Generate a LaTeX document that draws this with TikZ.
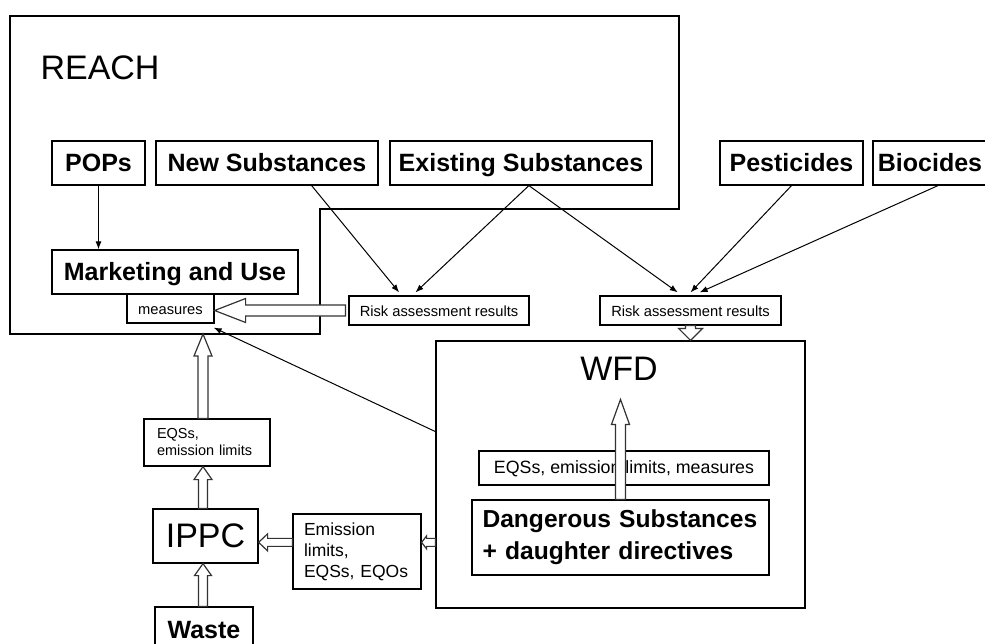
\documentclass[tikz,border=0pt]{standalone}
\usepackage{fontspec}
\setmainfont{Liberation Sans}
\usetikzlibrary{calc,arrows.meta}

% block arrow: shaft half width, head half width, head length, from, to
\newcommand{\hollowarrow}[5]{%
  \coordinate (ha) at (#4);
  \coordinate (hb) at (#5);
  \coordinate (hc) at ($(hb)!#3!(ha)$);
  \draw[hollow] ($(ha)!#1!90:(hb)$) -- ($(hc)!#1!90:(hb)$) -- ($(hc)!#2!90:(hb)$)
    -- (hb) -- ($(hc)!#2!-90:(hb)$) -- ($(hc)!#1!-90:(hb)$) -- ($(ha)!#1!-90:(hb)$) -- cycle;
}

\begin{document}
\begin{tikzpicture}[x=1pt, y=-1pt,
    frame/.style={draw, line width=1.2pt, inner sep=0pt},
    box/.style={frame, font=\bfseries\fontsize{25}{32}\selectfont, text height=17.5pt, text depth=0pt},
    small/.style={frame, font=\fontsize{14.7}{17}\selectfont, text height=12pt, text depth=0pt},
    title/.style={font=\fontsize{34}{40}\selectfont},
    link/.style={line width=1pt, -{Latex[length=8pt, width=6pt]}},
    hollow/.style={draw=black!80, fill=white, line width=1.2pt}]
    \useasboundingbox (0,0) rectangle (985,644);

    % REACH frame
    \draw[line width=1.2pt] (10,16) -- (679,16) -- (679,209) -- (320,209) -- (320,334) -- (10,334) -- cycle;
    \node[title, anchor=base west] (reach) at (37,80) {REACH};

    % Substance groups
    \node[box, minimum width=93pt, minimum height=44pt] (pops) at (98.5,163) {POPs};
    \node[box, minimum width=222pt, minimum height=44pt] (newsub) at (267,163) {New Substances};
    \node[box, minimum width=262pt, minimum height=44pt] (exist) at (521,163) {Existing Substances};
    \node[box, minimum width=143pt, minimum height=44pt] (pest) at (791.5,163) {Pesticides};
    \node[box, minimum width=114pt, minimum height=44pt] (bio) at (930,163) {Biocides};

    \node[box, minimum width=246pt, minimum height=44pt] (market) at (175,272) {Marketing and Use};
    \node[small, minimum width=87pt, minimum height=29pt] (meas) at (170.5,308.5) {measures};
    \node[small, minimum width=180pt, minimum height=29pt] (risk1) at (439,310.5) {Risk assessment results};
    \node[small, minimum width=181pt, minimum height=29pt] (risk2) at (690.5,310.5) {Risk assessment results};

    % WFD frame
    \node[frame, minimum width=369pt, minimum height=267pt] (wfd) at (620.5,474.5) {};
    \node[title, anchor=base] (wfdlabel) at (619,380) {WFD};
    \node[frame, minimum width=290pt, minimum height=34pt, font=\fontsize{17.8}{21}\selectfont,
        text height=12.5pt, text depth=2.5pt] (eqsbar) at (624,468) {EQSs, emission limits, measures};
    \node[frame, minimum width=297pt, minimum height=75pt, font=\bfseries\fontsize{24.6}{32}\selectfont,
        text width=276pt, align=left] (dang) at (620.5,537.5) {Dangerous Substances\\+ daughter directives};

    % IPPC side
    \node[frame, minimum width=126pt, minimum height=47pt, font=\fontsize{14.5}{17}\selectfont,
        text width=100pt, align=left] (eqs) at (207,442.5) {EQSs,\\emission limits};
    \node[frame, title, minimum width=105pt, minimum height=54pt, text height=23pt, text depth=0pt] (ippc) at (205.5,536) {IPPC};
    \node[frame, minimum width=128pt, minimum height=75pt, font=\fontsize{17.5}{21}\selectfont,
        text width=106pt, align=left] (emis) at (357,551.5) {Emission\\limits,\\EQSs, EQOs};
    \node[box, minimum width=98pt, minimum height=45pt] (waste) at (204,629.5) {Waste};

    % Thin arrows
    \draw[link] (pops.south) -- (pops.south |- market.north);
    \draw[link] ($(newsub.south west)!0.7!(newsub.south east)$) -- ($(risk1.north west)!0.28!(risk1.north east)+(0,-3)$);
    \draw[link] ($(exist.south west)!0.53!(exist.south east)$) -- ($(risk1.north west)!0.37!(risk1.north east)+(0,-3)$);
    \draw[link] ($(exist.south west)!0.53!(exist.south east)$) -- ($(risk2.north west)!0.43!(risk2.north east)+(0,-3)$);
    \draw[link] (pest.south) -- ($(risk2.north)+(0,-3)$);
    \draw[link] ([xshift=8pt]bio.south) -- ($(risk2.north west)!0.55!(risk2.north east)+(0,-3)$);
    \draw[link] ($(wfd.north west)!0.34!(wfd.south west)$) -- ([shift={(-1,4)}]meas.south east);

    % Block arrows
    \coordinate (reachbot) at (203,334);
    \coordinate (wfdtop) at ($(dang.north)+(0,-100)$);
    \coordinate (lim) at ($(emis.north east)!0.38!(emis.south east)$);
    \hollowarrow{5.5pt}{12pt}{31pt}{$(risk1.west)+(-3,0)$}{risk1.west -| meas.east}
    \hollowarrow{5pt}{12pt}{12pt}{risk2.south}{risk2.south |- wfd.north}
    \hollowarrow{5pt}{9pt}{25pt}{dang.north}{wfdtop}
    \hollowarrow{5pt}{9pt}{22pt}{reachbot |- eqs.north}{reachbot}
    \hollowarrow{4.5pt}{9pt}{13pt}{reachbot |- ippc.north}{reachbot |- eqs.south}
    \hollowarrow{4.5pt}{8.5pt}{12pt}{reachbot |- waste.north}{reachbot |- ippc.south}
    \hollowarrow{4pt}{8.5pt}{9pt}{lim -| emis.west}{lim -| ippc.east}
    \hollowarrow{4pt}{6.5pt}{5pt}{lim -| wfd.west}{lim}
\end{tikzpicture}
\end{document}
